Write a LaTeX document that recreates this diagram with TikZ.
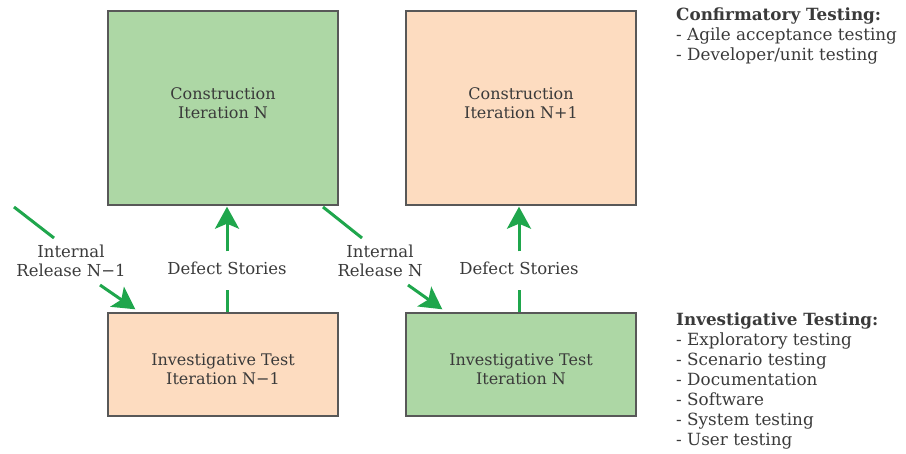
\documentclass[tikz,border=0pt]{standalone}
\usepackage{fontspec}
\setmainfont{DejaVu Serif}
\usetikzlibrary{arrows.meta}
\definecolor{boxgreen}{HTML}{ADD7A5}
\definecolor{boxpeach}{HTML}{FDDCC0}
\definecolor{arrowgreen}{HTML}{1FA64C}
\definecolor{txt}{HTML}{3A3A3A}
\definecolor{edge}{HTML}{585858}
\begin{document}
\begin{tikzpicture}[x=1pt,y=-1pt,
  box/.style={draw=edge, line width=1.4pt, minimum width=230pt, inner sep=0pt},
  bigbox/.style={box, minimum height=194pt},
  smallbox/.style={box, minimum height=103pt},
  boxtext/.style={text=txt, align=center, font=\fontsize{16}{19.5}\selectfont, inner sep=0pt},
  lbl/.style={text=txt, align=center, font=\fontsize{16.5}{18.5}\selectfont, inner sep=0pt},
  gline/.style={draw=arrowgreen, line width=3pt},
  garrow/.style={gline, -{Stealth[length=22pt,width=24pt,inset=5pt]}},
  side/.style={text=txt, align=left, anchor=north west, inner sep=0pt,
    font=\fontsize{16.8}{20}\selectfont}
]
\useasboundingbox (0,0) rectangle (906,453);

% boxes
\node[bigbox, fill=boxgreen] (cn) at (223,108) {};
\node[bigbox, fill=boxpeach] (cn1) at (521,108) {};
\node[smallbox, fill=boxpeach] (in1) at (223,364.5) {};
\node[smallbox, fill=boxgreen] (in) at (521,364.5) {};
\node[boxtext] (cnt) at (223,103) {Construction\\Iteration N};
\node[boxtext] (cn1t) at (521,103) {Construction\\Iteration N+1};
\node[boxtext] (in1t) at (223,369) {Investigative Test\\Iteration N−1};
\node[boxtext] (int) at (521,369) {Investigative Test\\Iteration N};

% defect stories
\node[lbl] (d1) at (227,268) {Defect Stories};
\node[lbl] (d2) at (519,268) {Defect Stories};
\draw[gline] (in1.north -| d1) -- ([yshift=-15]d1.south);
\draw[garrow] ([yshift=10]d1.north) -- ([yshift=-1]cn.south -| d1);
\draw[gline] (in.north -| d2) -- ([yshift=-15]d2.south);
\draw[garrow] ([yshift=10]d2.north) -- ([yshift=-1]cn1.south -| d2);

% internal releases
\node[lbl] (r1) at (71,261) {Internal\\Release N−1};
\node[lbl] (r2) at (380,261) {Internal\\Release N};
\coordinate (r1a) at (14,207);
\coordinate (r1b) at (54,238);
\coordinate (r1c) at (100,285);
\coordinate (r2a) at (323,207);
\coordinate (r2b) at (362,238);
\coordinate (r2c) at (408,285);
\draw[gline] (r1a) -- (r1b);
\draw[garrow] (r1c) -- ([xshift=28,yshift=3]in1.north west);
\draw[gline] (r2a) -- (r2b);
\draw[garrow] (r2c) -- ([xshift=37,yshift=3]in.north west);

% side texts
\node[side] (conf) at (676,8) {\textbf{Confirmatory Testing:}\\- Agile acceptance testing\\- Developer/unit testing};
\node[side] (inv) at (676,313) {\textbf{Investigative Testing:}\\- Exploratory testing\\- Scenario testing\\- Documentation\\- Software\\- System testing\\- User testing};
\end{tikzpicture}
\end{document}
